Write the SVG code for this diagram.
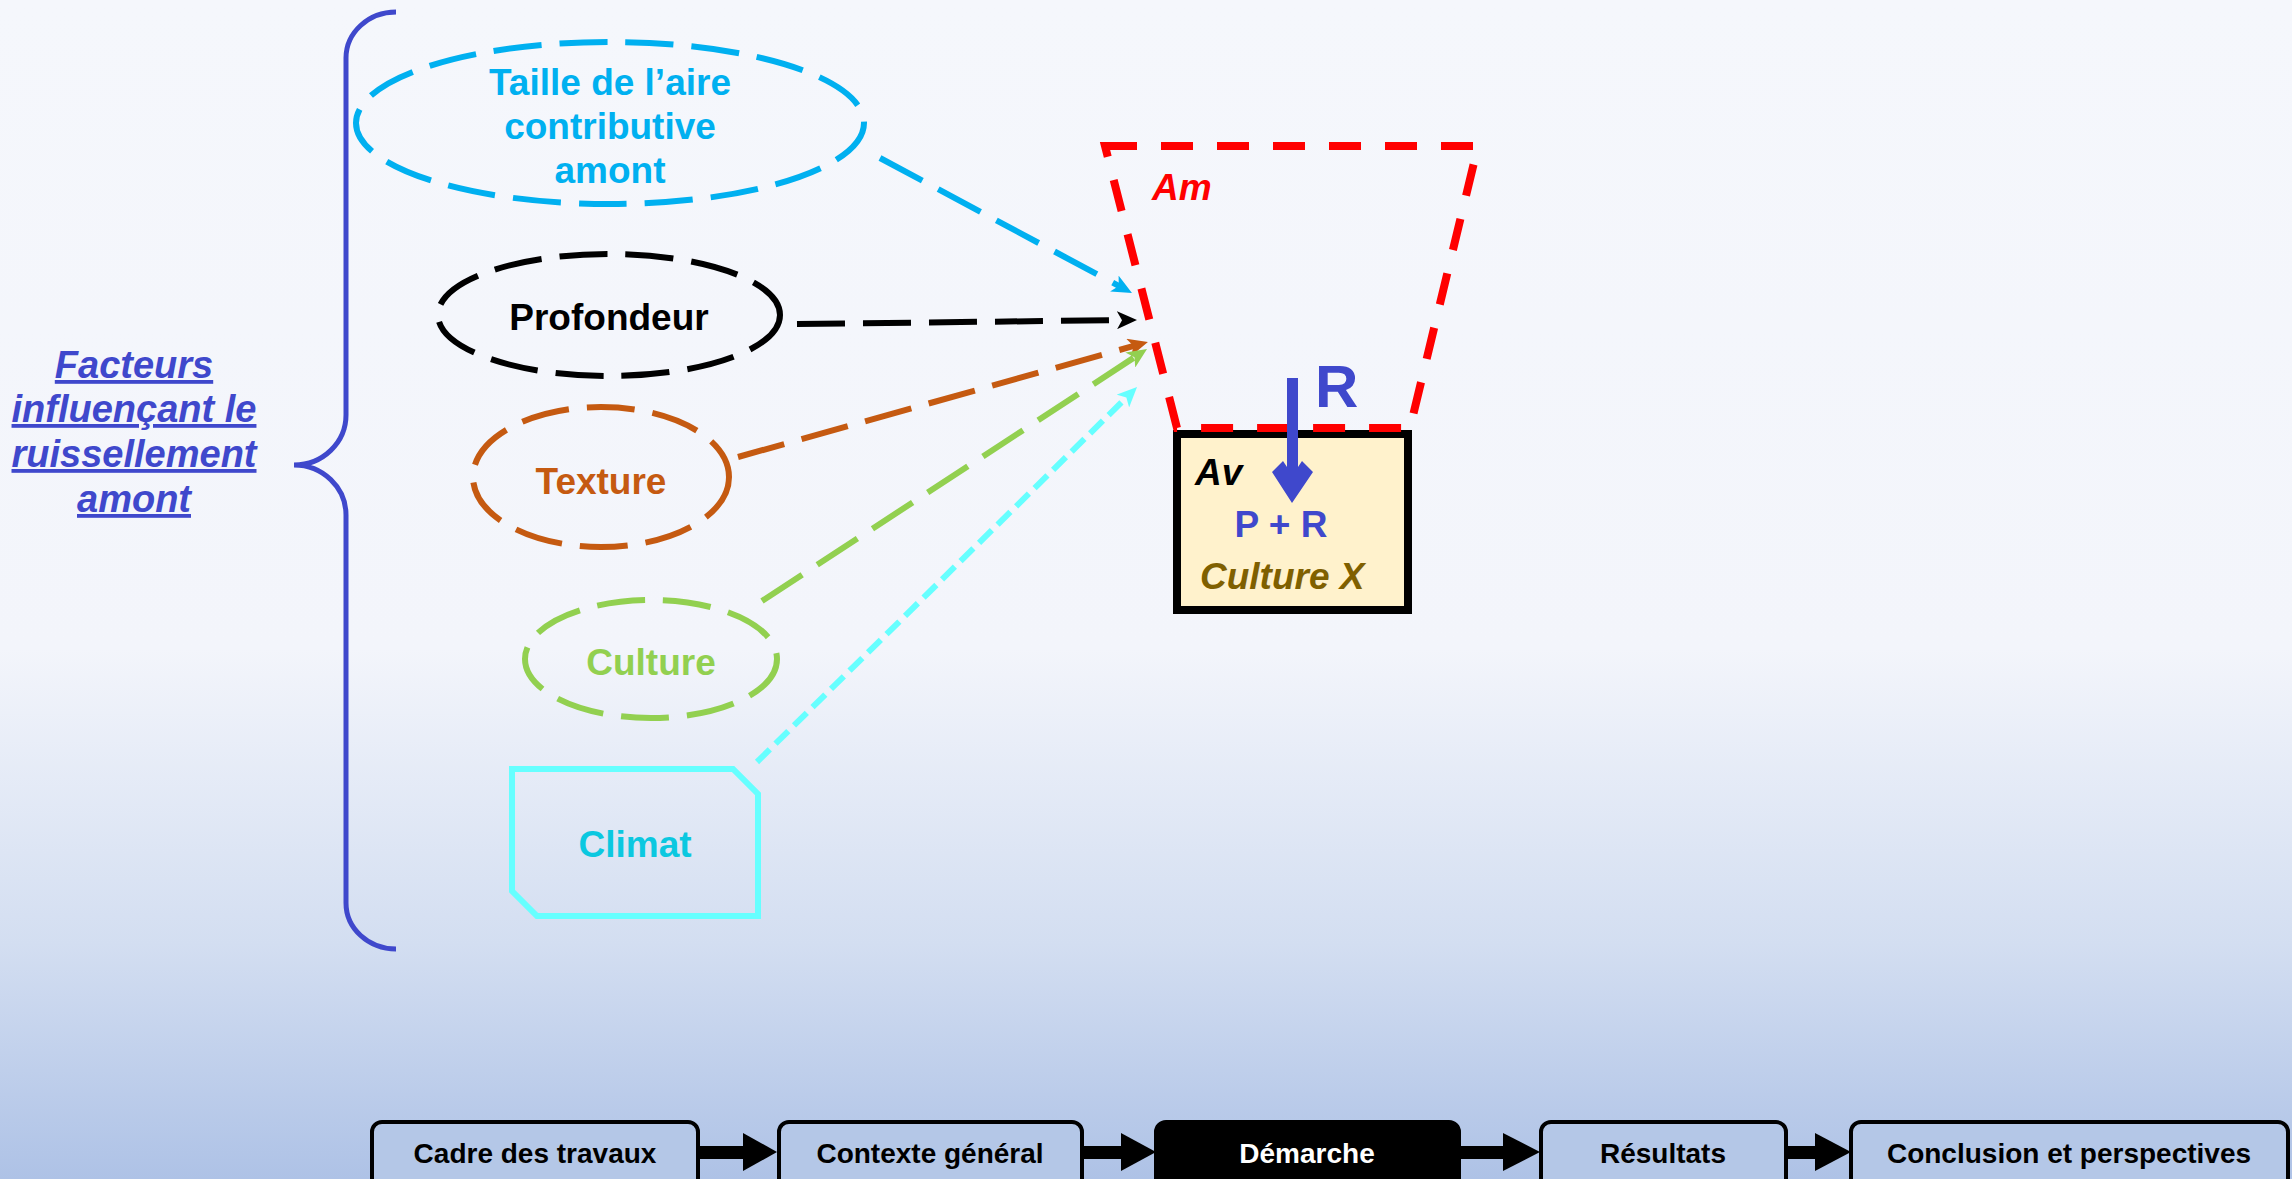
<svg xmlns="http://www.w3.org/2000/svg" width="2292" height="1179" viewBox="0 0 2292 1179">
<defs>
<linearGradient id="bg" x1="0" y1="0" x2="0" y2="1">
<stop offset="0" stop-color="#F5F7FC"/>
<stop offset="0.55" stop-color="#F3F5FB"/>
<stop offset="0.8" stop-color="#D3DEF1"/>
<stop offset="1" stop-color="#AEC2E6"/>
</linearGradient>
<marker id="mBlue" viewBox="0 0 20 18" refX="8" refY="9" markerWidth="20" markerHeight="18" markerUnits="userSpaceOnUse" orient="auto"><path d="M0,0 L20,9 L0,18 L5,9 z" fill="#00B0F0"/></marker>
<marker id="mBlack" viewBox="0 0 20 18" refX="8" refY="9" markerWidth="20" markerHeight="18" markerUnits="userSpaceOnUse" orient="auto"><path d="M0,0 L20,9 L0,18 L5,9 z" fill="#000000"/></marker>
<marker id="mBrown" viewBox="0 0 20 18" refX="8" refY="9" markerWidth="20" markerHeight="18" markerUnits="userSpaceOnUse" orient="auto"><path d="M0,0 L20,9 L0,18 L5,9 z" fill="#C55A11"/></marker>
<marker id="mGreen" viewBox="0 0 20 18" refX="8" refY="9" markerWidth="20" markerHeight="18" markerUnits="userSpaceOnUse" orient="auto"><path d="M0,0 L20,9 L0,18 L5,9 z" fill="#92D050"/></marker>
<marker id="mCyan" viewBox="0 0 20 18" refX="8" refY="9" markerWidth="20" markerHeight="18" markerUnits="userSpaceOnUse" orient="auto"><path d="M0,0 L20,9 L0,18 L5,9 z" fill="#66FFFF"/></marker>
</defs>
<style>
text{font-family:"Liberation Sans",Arial,sans-serif;font-weight:bold;}
.lbl{font-size:37px;text-anchor:middle;}
.it{font-style:italic;}
.dash{fill:none;stroke-width:6;stroke-dasharray:48 18;}
.nav{fill:#B4C7E7;stroke:#000;stroke-width:4;}
.navt{font-size:28px;text-anchor:middle;fill:#000;}
.conn{fill:none;stroke-width:6;stroke-dasharray:48 18;}
</style>
<rect x="0" y="0" width="2292" height="1179" fill="url(#bg)"/>

<g id="brace">
<path d="M396,12 A50,46 0 0 0 346,58 L346,415 A52,50 0 0 1 294,465 A52,50 0 0 1 346,515 L346,903 A50,46 0 0 0 396,949" fill="none" stroke="#3F48CC" stroke-width="5"/>
</g>

<g id="title" fill="#3F48CC" font-size="38" font-style="italic" text-decoration="underline" text-anchor="middle">
<text x="134" y="378" font-size="38">Facteurs</text>
<text x="134" y="422" font-size="38">influençant le</text>
<text x="134" y="467" font-size="38">ruissellement</text>
<text x="134" y="512" font-size="38">amont</text>
</g>

<g id="connectors">
<line x1="880" y1="158" x2="1121.4" y2="287.3" class="conn" stroke="#00B0F0" marker-end="url(#mBlue)"/>
<line x1="797" y1="324" x2="1125" y2="320.1" class="conn" stroke="#000000" marker-end="url(#mBlack)"/>
<line x1="738" y1="457" x2="1136.4" y2="345.2" class="conn" stroke="#C55A11" marker-end="url(#mBrown)"/>
<line x1="762" y1="601" x2="1137" y2="355.6" class="conn" stroke="#92D050" marker-end="url(#mGreen)"/>
<line x1="757" y1="762" x2="1128.5" y2="395.4" fill="none" stroke="#66FFFF" stroke-width="6" stroke-dasharray="18 8" marker-end="url(#mCyan)"/>
</g>

<g id="node-taille">
<ellipse cx="610" cy="123" rx="254" ry="81" class="dash" stroke="#00B0F0"/>
<text class="lbl" x="610" y="95" fill="#00B0F0">Taille de l’aire</text>
<text class="lbl" x="610" y="139" fill="#00B0F0">contributive</text>
<text class="lbl" x="610" y="183" fill="#00B0F0">amont</text>
</g>

<g id="node-profondeur">
<ellipse cx="609" cy="315" rx="171" ry="61" class="dash" stroke="#000000"/>
<text class="lbl" x="609" y="330" fill="#000000">Profondeur</text>
</g>

<g id="node-texture">
<ellipse cx="601" cy="477" rx="128" ry="70" class="dash" stroke="#C55A11"/>
<text class="lbl" x="601" y="494" fill="#C55A11">Texture</text>
</g>

<g id="node-culture">
<ellipse cx="651" cy="659" rx="126" ry="59" class="dash" stroke="#92D050"/>
<text class="lbl" x="651" y="675" fill="#92D050">Culture</text>
</g>

<g id="node-climat">
<path d="M512,769 L733,769 L758,794 L758,916 L537,916 L512,891 Z" fill="none" stroke="#66FFFF" stroke-width="6"/>
<text class="lbl" x="635" y="857" fill="#0BC8E0">Climat</text>
</g>

<g id="node-av">
<rect x="1177" y="434" width="231" height="176" fill="#FFF2CC" stroke="#000" stroke-width="8"/>
<text x="1195" y="485" font-size="37" font-style="italic" fill="#000">Av</text>
<text x="1281" y="537" font-size="37" text-anchor="middle" fill="#3F48CC">P + R</text>
<text x="1200" y="589" font-size="37" font-style="italic" fill="#7F6000">Culture X</text>
</g>

<g id="node-am">
<path d="M1105,146 L1478,146 L1410,428 L1177,428 Z" fill="none" stroke="#FF0000" stroke-width="8" stroke-dasharray="32 24"/>
<text x="1152" y="200" font-size="37" font-style="italic" fill="#FF0000">Am</text>
</g>

<g id="arrow-r">
<polygon points="1272,472 1283,461 1287,467 1287,378 1298,378 1298,467 1302,461 1313,472 1292,503" fill="#3F48CC"/>
<text x="1315" y="407" font-size="60" fill="#3F48CC">R</text>
</g>

<g id="nav-arrows" fill="#000">
<rect x="698" y="1146" width="47" height="13"/><polygon points="743,1133 777,1152 743,1171"/>
<rect x="1082" y="1146" width="41" height="13"/><polygon points="1121,1133 1156,1152 1121,1171"/>
<rect x="1459" y="1146" width="46" height="13"/><polygon points="1503,1133 1540,1152 1503,1171"/>
<rect x="1786" y="1146" width="31" height="13"/><polygon points="1815,1133 1851,1152 1815,1171"/>
</g>

<g id="nav-1"><rect class="nav" x="372" y="1122" width="326" height="72" rx="10"/><text class="navt" x="535" y="1163">Cadre des travaux</text></g>
<g id="nav-2"><rect class="nav" x="779" y="1122" width="303" height="72" rx="10"/><text class="navt" x="930" y="1163">Contexte général</text></g>
<g id="nav-3"><rect x="1156" y="1122" width="303" height="72" rx="10" fill="#000" stroke="#000" stroke-width="4"/><text class="navt" x="1307" y="1163" fill="#FFFFFF" style="fill:#FFFFFF">Démarche</text></g>
<g id="nav-4"><rect class="nav" x="1541" y="1122" width="245" height="72" rx="10"/><text class="navt" x="1663" y="1163">Résultats</text></g>
<g id="nav-5"><rect class="nav" x="1851" y="1122" width="437" height="72" rx="10"/><text class="navt" x="2069" y="1163">Conclusion et perspectives</text></g>
</svg>
